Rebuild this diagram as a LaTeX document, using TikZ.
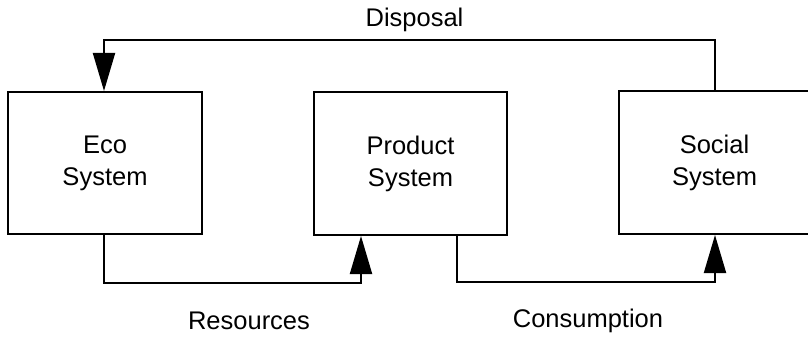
\documentclass[tikz,border=0pt]{standalone}
\usepackage{fontspec}
\setmainfont{Liberation Sans}
\usetikzlibrary{arrows.meta,calc}

\tikzset{
  sysbox/.style={draw, line width=2pt, align=center, inner sep=0pt,
    font=\fontsize{25.5}{32}\selectfont},
  flow/.style={line width=2pt, line join=miter,
    -{Triangle[length=38pt,width=22pt]}},
  flowlabel/.style={anchor=base, inner sep=0pt,
    font=\fontsize{25.5}{32}\selectfont}
}

\begin{document}
\begin{tikzpicture}[x=1pt,y=-1pt]
  \useasboundingbox (0,0) rectangle (808,337);
  \clip (0,0) rectangle (808,337);

  % the three systems
  \node[sysbox, minimum width=194pt, minimum height=142pt] (eco) at (105,163)
    {Eco\\System};
  \node[sysbox, minimum width=193pt, minimum height=143pt] (prod) at (410.5,163.5)
    {Product\\System};
  \node[sysbox, minimum width=191pt, minimum height=143pt] (soc) at (714.5,162.5)
    {Social\\System};

  % connector routing points
  \coordinate (ecoout)  at ([xshift=-1pt]eco.south);
  \coordinate (prodin)  at ([xshift=-49.5pt]prod.south);
  \coordinate (prodout) at ([xshift=46.5pt]prod.south);
  \coordinate (socout)  at ([xshift=0.5pt]soc.north);
  \coordinate (socin)   at ([xshift=0.5pt]soc.south);
  \coordinate (ecoin)   at ([xshift=-1pt]eco.north);

  % flows between the systems
  \draw[flow] (socout) -- ++(0,-50) -| (ecoin);
  \draw[flow] (ecoout) -- ++(0,48) -| (prodin);
  \draw[flow] (prodout) -- ++(0,46) -| (socin);

  % flow labels
  \node[flowlabel] (disposal)    at (414.5,27) {Disposal};
  \node[flowlabel] (resources)   at (249,329)  {Resources};
  \node[flowlabel] (consumption) at (588,327)  {Consumption};
\end{tikzpicture}
\end{document}
